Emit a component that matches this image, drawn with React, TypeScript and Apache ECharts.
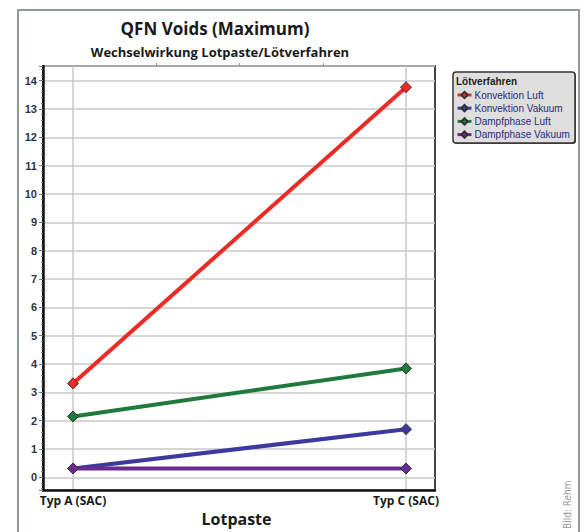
import React, { useEffect, useRef } from "react";
import * as echarts from "echarts";

const categories = ["Typ A (SAC)", "Typ C (SAC)"];
const seriesNames = ["Konvektion Luft", "Konvektion Vakuum", "Dampfphase Luft", "Dampfphase Vakuum"];
const konvektionLuft = [3.29, 13.77];
const konvektionVakuum = [0.28, 1.67];
const dampfphaseLuft = [2.12, 3.82];
const dampfphaseVakuum = [0.28, 0.28];
const seriesColors = ["#ee2a24", "#3c3a9e", "#1f7a3c", "#6a2b8e"];
const yMin = -0.45;
const yMax = 14.52;

const titleText = "QFN Voids (Maximum)";
const subtitleText = "Wechselwirkung Lotpaste/Lötverfahren";
const xAxisName = "Lotpaste";
const legendTitle = "Lötverfahren";
const creditText = "Bild: Rehm";

export default function App() {
  const ref = useRef<HTMLDivElement>(null);
  useEffect(() => {
    if (!ref.current) return;
    const chart = echarts.init(ref.current, undefined, { renderer: "svg" });
    const values = [konvektionLuft, konvektionVakuum, dampfphaseLuft, dampfphaseVakuum];
    const font = "'Open Sans', 'Noto Sans', sans-serif";
    const gridColor = "#c8c8c8";
    chart.setOption({
      animation: false,
      backgroundColor: "#ffffff",
      grid: [
        { left: 43, top: 66, width: 392, height: 424, show: true, borderColor: "#444", borderWidth: 2, backgroundColor: "transparent" },
        { left: 73, top: 66, width: 333, height: 424 },
      ],
      xAxis: [
        {
          gridIndex: 0, type: "value", min: 0, max: 1,
          axisLine: { show: true, onZero: false, lineStyle: { color: "#111", width: 2.5 } },
          axisTick: { show: false }, axisLabel: { show: false }, splitLine: { show: false },
        },
        {
          gridIndex: 1, type: "category", data: categories, boundaryGap: false,
          axisLine: { show: false, onZero: false }, axisTick: { show: false },
          axisLabel: { show: true, margin: 5, fontFamily: font, fontWeight: "bold", fontSize: 12, color: "#1a1a1a" },
          splitLine: { show: true, lineStyle: { color: gridColor, width: 1.5 } },
          name: xAxisName, nameLocation: "middle", nameGap: 20,
          nameTextStyle: { fontFamily: font, fontWeight: "bold", fontSize: 16, color: "#1a1a1a", padding: [0, 6, 0, 0] },
        },
        {
          gridIndex: 1, type: "value", min: 0, max: 4, interval: 1,
          axisLine: { show: false, onZero: false },
          axisTick: { show: true, length: 3, lineStyle: { color: "#999" }, customValues: [1, 2, 3] },
          axisLabel: { show: false }, splitLine: { show: false },
        },
      ],
      yAxis: [
        {
          gridIndex: 0, type: "value", min: yMin, max: yMax, splitNumber: 15, minInterval: 1, maxInterval: 1,
          axisLine: { show: true, onZero: false, lineStyle: { color: "#111", width: 2.5 } },
          axisTick: { show: true, length: 4, lineStyle: { color: "#777" } },
          minorTick: { show: true, splitNumber: 5, length: 2, lineStyle: { color: "#777" } },
          axisLabel: {
            margin: 6, fontFamily: "'Liberation Sans', Arial, sans-serif", fontWeight: "bold", fontSize: 11, color: "#30333f",
            formatter: (v: number) => (Math.abs(v - Math.round(v)) < 1e-6 ? String(Math.abs(Math.round(v))) : ""),
          },
          splitLine: { show: true, lineStyle: { color: gridColor, width: 1.5 } },
        },
        { gridIndex: 1, type: "value", min: yMin, max: yMax, show: false },
      ],
      legend: {
        orient: "vertical", left: 453, top: 90, padding: [0, 0, 0, 3], itemGap: 3.2,
        itemWidth: 14, itemHeight: 8, z: 10,
        lineStyle: { width: 3 },
        textStyle: { fontFamily: "'Liberation Sans', Arial, sans-serif", fontSize: 10, color: "#2b2b7f", padding: [0, 0, 0, -2] },
        data: seriesNames,
      },
      series: seriesNames.map((name, i) => ({
        name, type: "line", xAxisIndex: 1, yAxisIndex: 1, data: values[i],
        symbol: "diamond", symbolSize: 11,
        lineStyle: { color: seriesColors[i], width: 4 },
        itemStyle: { color: seriesColors[i], borderColor: "#333", borderWidth: 1 },
        z: 3 + i,
      })),
      graphic: [
        { type: "rect", z: -10, shape: { x: 18, y: 10, width: 561, height: 600 }, style: { fill: "none", stroke: "#8e9c94", lineWidth: 2 } },
        { type: "rect", z: 1, shape: { x: 454, y: 73, width: 122, height: 71, r: 3 }, style: { fill: "#555", stroke: "none" } },
        { type: "rect", z: 2, shape: { x: 453, y: 72, width: 122, height: 71, r: 3 }, style: { fill: "#dedede", stroke: "#333", lineWidth: 1.5 } },
        { type: "text", z: 3, x: 456, y: 81, style: { text: legendTitle, font: "bold 10px 'Liberation Sans', Arial, sans-serif", fill: "#222", textVerticalAlign: "middle" } },
        { type: "text", x: 215, y: 28, style: { text: titleText, font: `bold 17px ${font}`, fill: "#1a1a1a", textAlign: "center", textVerticalAlign: "middle" } },
        { type: "text", x: 220, y: 52, style: { text: subtitleText, font: `bold 13px ${font}`, fill: "#1a1a1a", textAlign: "center", textVerticalAlign: "middle" } },
        { type: "text", x: 567, y: 529, rotation: Math.PI / 2, style: { text: creditText, font: "10px 'Liberation Sans Narrow', 'DejaVu Sans Condensed', sans-serif", fill: "#9a9a9a", textAlign: "left", textVerticalAlign: "middle" } },
      ],
    });
    return () => chart.dispose();
  }, []);
  return <div ref={ref} style={{ position: "fixed", left: 0, top: 0, width: 584, height: 532 }} />;
}
